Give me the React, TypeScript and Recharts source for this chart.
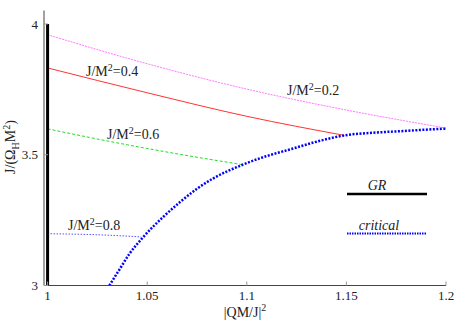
import React from 'react';
import { LineChart, Line, XAxis, YAxis, Customized } from 'recharts';

const xTicks = [1, 1.05, 1.1, 1.15, 1.2];
const yTicks = [3, 3.5, 4];

const grX = [1, 1];
const grY = [3, 4];

const critX = [1.031, 1.036, 1.041, 1.048, 1.058, 1.0665, 1.075, 1.083, 1.098, 1.11, 1.122, 1.135, 1.149, 1.165, 1.177, 1.19, 1.2];
const critY = [3.0, 3.06, 3.12, 3.185, 3.262, 3.319, 3.37, 3.409, 3.462, 3.495, 3.521, 3.55, 3.574, 3.585, 3.59, 3.596, 3.6];

const j02X = [1, 1.05, 1.1, 1.15, 1.2];
const j02Y = [3.959, 3.848, 3.751, 3.671, 3.602];

const j04X = [1, 1.05, 1.1, 1.149];
const j04Y = [3.832, 3.737, 3.647, 3.574];

const j06X = [1, 1.04, 1.07, 1.098];
const j06Y = [3.599, 3.538, 3.497, 3.462];

const j08X = [1, 1.025, 1.047];
const j08Y = [3.198, 3.194, 3.186];

const toPts = (xs: number[], ys: number[]) => xs.map((x, i) => ({ x, y: ys[i] }));

const FONT = 'Liberation Serif';
const TXT = '#222';

const Overlay = () => (
  <g fill={TXT}>
    <text x={86} y={76} fontSize={14} fontFamily={FONT}>J/M<tspan dy={-5} fontSize={10}>2</tspan><tspan dy={5}>=0.4</tspan></text>
    <text x={287} y={95} fontSize={14} fontFamily={FONT}>J/M<tspan dy={-5} fontSize={10}>2</tspan><tspan dy={5}>=0.2</tspan></text>
    <text x={107} y={139} fontSize={14} fontFamily={FONT}>J/M<tspan dy={-5} fontSize={10}>2</tspan><tspan dy={5}>=0.6</tspan></text>
    <text x={68} y={230} fontSize={14} fontFamily={FONT}>J/M<tspan dy={-5} fontSize={10}>2</tspan><tspan dy={5}>=0.8</tspan></text>
    <text x={377} y={190} fontSize={14} fontFamily={FONT} fontStyle="italic" textAnchor="middle">GR</text>
    <line x1={347} x2={427} y1={194} y2={194} stroke="#000" strokeWidth={2.5} />
    <text x={379} y={230} fontSize={14} fontFamily={FONT} fontStyle="italic" textAnchor="middle">critical</text>
    <line x1={347} x2={427} y1={233.5} y2={233.5} stroke="#0000ff" strokeWidth={2} strokeDasharray="1.5 1" />
    <text x={245} y={317} fontSize={14} fontFamily={FONT} textAnchor="middle">|QM/J|<tspan dy={-6} fontSize={10}>2</tspan></text>
    <text x={0} y={0} fontSize={14} fontFamily={FONT} textAnchor="middle" transform="translate(15,147) rotate(-90)">
      J/(Ω<tspan dy={4} fontSize={10}>H</tspan><tspan dy={-4}>M</tspan><tspan dy={-5} fontSize={10}>2</tspan><tspan dy={5}>)</tspan>
    </text>
  </g>
);

const tickStyle = { fontFamily: FONT, fontSize: 13, fill: TXT };

export default function App() {
  return (
    <div style={{ position: 'absolute', left: 0, top: 0, width: 463, height: 324, background: '#fff', fontFamily: FONT }}>
      <LineChart width={463} height={324} margin={{ top: 10.5, right: 17, left: 0, bottom: 0 }} style={{ fontFamily: FONT }}>
        <XAxis
          xAxisId="b"
          type="number"
          dataKey="x"
          domain={[0.9982, 1.2]}
          ticks={xTicks}
          allowDataOverflow
          height={38.5}
          tickSize={-4}
          tickMargin={9}
          stroke="#444"
          tick={tickStyle}
          tickLine={{ stroke: '#999' }}
          tickFormatter={(v: number) => String(v)}
        />
        <XAxis
          xAxisId="t"
          orientation="top"
          type="number"
          dataKey="x"
          domain={[0.9982, 1.2]}
          ticks={xTicks}
          allowDataOverflow
          height={0}
          tickSize={-4}
          stroke="#444"
          tickLine={{ stroke: '#999' }}
          tickFormatter={() => ''}
        />
        <YAxis
          yAxisId="l"
          type="number"
          dataKey="y"
          domain={[3, 4.0516]}
          ticks={yTicks}
          allowDataOverflow
          width={44}
          tickSize={-4}
          tickMargin={10}
          stroke="#444"
          tick={tickStyle}
          tickLine={{ stroke: '#999' }}
          tickFormatter={(v: number) => String(v)}
        />
        <YAxis
          yAxisId="r"
          orientation="right"
          type="number"
          dataKey="y"
          domain={[3, 4.0516]}
          ticks={yTicks}
          allowDataOverflow
          width={0}
          tickSize={-4}
          stroke="#444"
          tickLine={{ stroke: '#999' }}
          tickFormatter={() => ''}
        />
        <Line xAxisId="b" yAxisId="l" data={toPts(j02X, j02Y)} dataKey="y" type="monotone" stroke="#ff77ff" strokeWidth={1} strokeDasharray="2 1" dot={false} isAnimationActive={false} />
        <Line xAxisId="b" yAxisId="l" data={toPts(j04X, j04Y)} dataKey="y" type="monotone" stroke="#ff3333" strokeWidth={1} dot={false} isAnimationActive={false} />
        <Line xAxisId="b" yAxisId="l" data={toPts(j06X, j06Y)} dataKey="y" type="monotone" stroke="#22dd22" strokeWidth={1} strokeDasharray="3 2" dot={false} isAnimationActive={false} />
        <Line xAxisId="b" yAxisId="l" data={toPts(j08X, j08Y)} dataKey="y" type="monotone" stroke="#5555ff" strokeWidth={1} strokeDasharray="1.5 1.5" dot={false} isAnimationActive={false} />
        <Line xAxisId="b" yAxisId="l" data={toPts(critX, critY)} dataKey="y" type="monotone" stroke="#0000ff" strokeWidth={2.5} strokeDasharray="2 1.5" dot={false} isAnimationActive={false} />
        <Line xAxisId="b" yAxisId="l" data={toPts(grX, grY)} dataKey="y" type="linear" stroke="#000" strokeWidth={3} dot={false} isAnimationActive={false} />
        <Customized component={<Overlay />} />
      </LineChart>
    </div>
  );
}
